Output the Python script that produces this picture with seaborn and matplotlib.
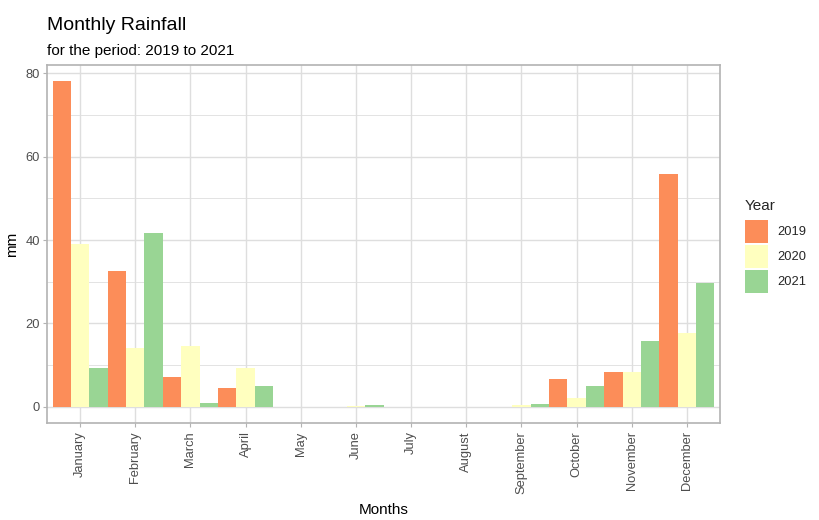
import matplotlib
matplotlib.use("Agg")
import matplotlib.pyplot as plt
import seaborn as sns
import pandas as pd
from matplotlib.patches import Patch

months = ["January", "February", "March", "April", "May", "June", "July",
          "August", "September", "October", "November", "December"]
years = ["2019", "2020", "2021"]
rain_2019 = [78.1, 32.6, 7.2, 4.6, 0.0, 0.0, 0.0, 0.0, 0.0, 6.6, 8.3, 55.8]
rain_2020 = [39.0, 14.0, 14.6, 9.3, 0.0, 0.2, 0.0, 0.0, 0.5, 2.2, 8.3, 17.7]
rain_2021 = [9.3, 41.6, 0.8, 5.0, 0.0, 0.4, 0.0, 0.0, 0.6, 5.0, 15.8, 29.8]
colors = ["#FC8D59", "#FFFFBF", "#99D594"]

df = pd.DataFrame({
    "Months": months * 3,
    "Year": [y for y in years for _ in months],
    "mm": rain_2019 + rain_2020 + rain_2021,
})

sns.set_theme(style="white")
plt.rcParams["font.family"] = ["Liberation Sans", "DejaVu Sans"]

fig = plt.figure(figsize=(8.19, 5.20), dpi=100)
ax = fig.add_axes([47/819, 1 - 423/520, (720 - 47)/819, (423 - 65)/520])

sns.barplot(data=df, x="Months", y="mm", hue="Year", order=months,
            hue_order=years, palette=colors, width=1.0, gap=0,
            linewidth=0, saturation=1, ax=ax, legend=False, zorder=3)

ymax = max(rain_2019 + rain_2020 + rain_2021)
ax.set_ylim(-0.05 * ymax, ymax * 1.05)
ax.set_xlim(-0.6, len(months) - 0.4)
ax.set_yticks([0, 20, 40, 60, 80])
ax.set_yticks([10, 30, 50, 70], minor=True)

grid_c = "#DEDEDE"
ax.grid(True, which="major", color=grid_c, linewidth=1.0, zorder=0)
ax.grid(True, which="minor", axis="y", color=grid_c, linewidth=0.6, zorder=0)
ax.set_axisbelow(True)

for s in ax.spines.values():
    s.set_visible(True)
    s.set_color("#B3B3B3")
    s.set_linewidth(1.2)

ax.tick_params(axis="both", which="major", length=3, width=0.8, color="#B3B3B3",
               labelcolor="#4D4D4D", labelsize=9.3, left=True, bottom=True)
ax.tick_params(axis="y", which="minor", length=0)
ax.tick_params(axis="x", labelrotation=90, pad=3)
ax.tick_params(axis="y", pad=2)

ax.set_xlabel("Months", fontsize=11, color="black", labelpad=6)
ax.set_ylabel("mm", fontsize=11, color="black", labelpad=5)

fig.text(47/819, 1 - 30/520, "Monthly Rainfall", fontsize=14, color="black",
         ha="left", va="baseline")
fig.text(47/819, 1 - 55/520, "for the period: 2019 to 2021", fontsize=11,
         color="black", ha="left", va="baseline")

handles = [Patch(facecolor=c, edgecolor="none") for c in colors]
leg = fig.legend(handles, years, title="Year", loc="upper left",
                 bbox_to_anchor=(742/819, 1 - 196/520), frameon=False,
                 fontsize=9.3, title_fontsize=11, handlelength=1.85,
                 handleheight=2.37, labelspacing=0.15, handletextpad=0.7,
                 borderaxespad=0, borderpad=0.2)
leg._legend_box.align = "left"
leg._legend_box.sep = 5

fig.savefig("out.png", dpi=100)
